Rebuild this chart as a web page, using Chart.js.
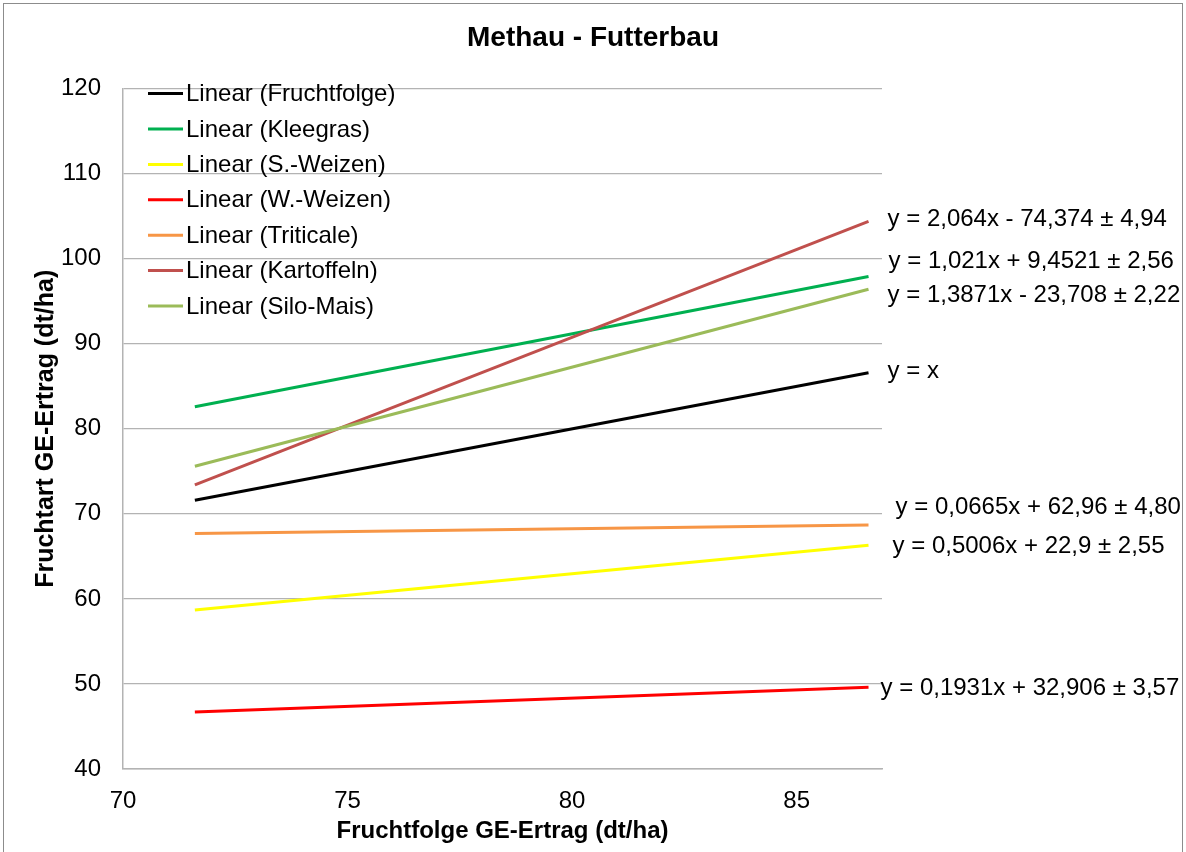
<!doctype html>
<html lang="de">
  <head>
    <meta charset="UTF-8" />
    <title>Methau - Futterbau</title>
    <script src="https://cdn.jsdelivr.net/npm/chart.js"></script>
    <style>
      body {
        margin: 0;
        background: #fff;
      }
      canvas {
        display: block;
      }
    </style>
  </head>
  <body>
    <canvas id="chart" width="1186" height="852"></canvas>

    <script>
      // Trendline end points
      const xEnds = [71.6, 86.6];
      const fruchtfolge = [71.6, 86.6];
      const kleegras = [82.6, 97.9];
      const sWeizen = [58.7, 66.3];
      const wWeizen = [46.7, 49.6];
      const triticale = [67.7, 68.7];
      const kartoffeln = [73.4, 104.4];
      const siloMais = [75.6, 96.4];

      const seriesNames = [
        'Linear (Fruchtfolge)',
        'Linear (Kleegras)',
        'Linear (S.-Weizen)',
        'Linear (W.-Weizen)',
        'Linear (Triticale)',
        'Linear (Kartoffeln)',
        'Linear (Silo-Mais)',
      ];
      const seriesValues = [
        fruchtfolge,
        kleegras,
        sWeizen,
        wWeizen,
        triticale,
        kartoffeln,
        siloMais,
      ];
      const equations = [
        'y = x',
        'y = 1,021x + 9,4521 ± 2,56',
        'y = 0,5006x + 22,9 ± 2,55',
        'y = 0,1931x + 32,906 ± 3,57',
        'y = 0,0665x + 62,96 ± 4,80',
        'y = 2,064x - 74,374 ± 4,94',
        'y = 1,3871x - 23,708 ± 2,22',
      ];
      const xTicks = [70, 75, 80, 85];

      // styling
      const colors = [
        '#000000',
        '#00b050',
        '#ffff00',
        '#ff0000',
        '#f79646',
        '#c0504d',
        '#9bbb59',
      ];
      // label offsets from the right end of each line (px)
      const labelOffsets = [
        [19, -1],
        [20, -15],
        [24, 1],
        [12, 1],
        [27, -18],
        [19, -2],
        [19, 6],
      ];

      const FONT = "'Liberation Sans', Arial, sans-serif";
      Chart.defaults.font.family = FONT;
      Chart.defaults.color = '#000';

      // white background + outer frame
      const framePlugin = {
        id: 'frame',
        beforeDraw(chart) {
          const ctx = chart.ctx;
          ctx.save();
          ctx.fillStyle = '#fff';
          ctx.fillRect(0, 0, chart.width, chart.height);
          ctx.strokeStyle = '#8c8c8c';
          ctx.lineWidth = 1;
          ctx.strokeRect(3.5, 3.5, chart.width - 7, chart.height + 10);
          ctx.restore();
        },
      };

      // legend drawn inside the plot area, top left
      const innerLegend = {
        id: 'innerLegend',
        afterDatasetsDraw(chart) {
          const ctx = chart.ctx;
          const area = chart.chartArea;
          ctx.save();
          ctx.font = '24px ' + FONT;
          ctx.textBaseline = 'middle';
          ctx.textAlign = 'left';
          chart.data.datasets.forEach((ds, i) => {
            const y = area.top + 5 + i * 35.4;
            ctx.strokeStyle = ds.borderColor;
            ctx.lineWidth = 3;
            ctx.beginPath();
            ctx.moveTo(area.left + 25, y);
            ctx.lineTo(area.left + 60, y);
            ctx.stroke();
            ctx.fillStyle = '#000';
            ctx.fillText(ds.label, area.left + 63, y + 1);
          });
          ctx.restore();
        },
      };

      // regression equations next to line ends
      const equationLabels = {
        id: 'equationLabels',
        afterDatasetsDraw(chart) {
          const ctx = chart.ctx;
          const xs = chart.scales.x;
          const ys = chart.scales.y;
          ctx.save();
          ctx.font = '24px ' + FONT;
          ctx.textBaseline = 'middle';
          ctx.textAlign = 'left';
          ctx.fillStyle = '#000';
          seriesValues.forEach((vals, i) => {
            const last = vals.length - 1;
            const px = xs.getPixelForValue(xEnds[last]);
            const py = ys.getPixelForValue(vals[last]);
            ctx.fillText(
              equations[i],
              px + labelOffsets[i][0],
              py + labelOffsets[i][1],
            );
          });
          ctx.restore();
        },
      };

      const datasets = seriesNames.map((name, i) => ({
        label: name,
        data: xEnds.map((x, j) => ({ x: x, y: seriesValues[i][j] })),
        borderColor: colors[i],
        backgroundColor: colors[i],
        borderWidth: 3,
        pointRadius: 0,
        tension: 0,
        fill: false,
        order: seriesNames.length - i,
      }));

      new Chart(document.getElementById('chart'), {
        type: 'line',
        data: { datasets },
        plugins: [framePlugin, innerLegend, equationLabels],
        options: {
          responsive: false,
          animation: false,
          layout: { padding: 0 },
          plugins: {
            legend: { display: false },
            tooltip: { enabled: false },
            title: {
              display: true,
              text: 'Methau - Futterbau',
              color: '#000',
              font: { size: 28, weight: 'bold' },
              padding: { top: 21, bottom: 34 },
            },
          },
          scales: {
            x: {
              type: 'linear',
              min: 70,
              max: 86.9,
              afterBuildTicks: (s) => {
                s.ticks = xTicks.map((v) => ({ value: v }));
              },
              afterFit: (s) => {
                s.height = 83;
              },
              grid: { display: false, drawTicks: false },
              border: { display: true, color: '#b3b3b3', width: 1.5 },
              ticks: {
                padding: 18,
                font: { size: 24 },
                color: '#000',
                maxRotation: 0,
              },
              title: {
                display: true,
                text: 'Fruchtfolge GE-Ertrag (dt/ha)',
                color: '#000',
                font: { size: 24, weight: 'bold' },
                padding: { top: 0, bottom: 6 },
              },
            },
            y: {
              min: 40,
              max: 120,
              afterFit: (s) => {
                s.width = 123;
              },
              grid: { color: '#b3b3b3', lineWidth: 1.2, drawTicks: false },
              border: { display: true, color: '#b3b3b3', width: 1.5 },
              ticks: {
                stepSize: 10,
                padding: 22,
                font: { size: 24 },
                color: '#000',
              },
              title: {
                display: true,
                text: 'Fruchtart GE-Ertrag (dt/ha)',
                color: '#000',
                font: { size: 25, weight: 'bold' },
                padding: { top: 31, bottom: 0 },
              },
            },
            // empty right-hand space where the equations sit
            yRight: {
              position: 'right',
              min: 40,
              max: 120,
              afterFit: (s) => {
                s.width = 304;
              },
              grid: { display: false, drawTicks: false },
              border: { display: false },
              ticks: { display: false },
            },
          },
        },
      });
    </script>
  </body>
</html>
